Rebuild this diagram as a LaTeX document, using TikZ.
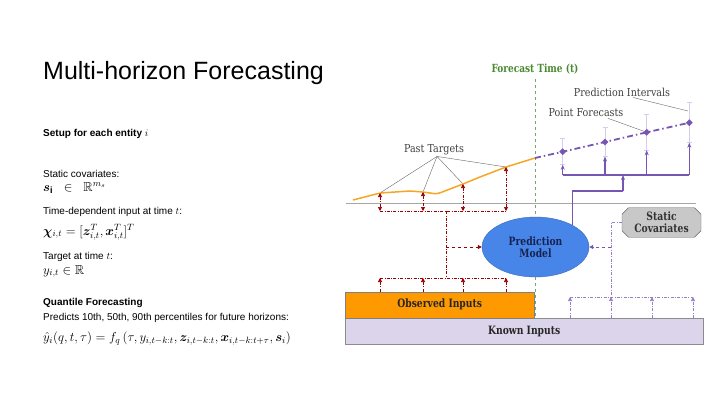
\RequirePackage{fix-cm}
\documentclass[tikz,border=0pt]{standalone}
\usepackage{amsmath,amssymb,bm}
\usepackage{fontspec}
\setmainfont{Liberation Sans}
\newfontfamily\diagfont[FakeStretch=0.87]{DejaVu Serif}
\newfontfamily\boldfam[FakeStretch=0.8]{DejaVu Serif}
\usetikzlibrary{arrows.meta,shapes.geometric,shapes.misc}
\definecolor{obsorange}{RGB}{255,153,0}
\definecolor{lineorange}{RGB}{246,166,35}
\definecolor{tgtred}{RGB}{153,0,0}
\definecolor{fcpurple}{RGB}{118,86,178}
\definecolor{barlav}{RGB}{214,204,238}
\definecolor{knownlav}{RGB}{220,212,234}
\definecolor{modelblue}{RGB}{72,133,232}
\definecolor{modeltext}{RGB}{22,34,80}
\definecolor{ftgreen}{RGB}{72,138,48}
\definecolor{covgray}{RGB}{200,200,200}
\newcommand\bodyfont{\fontsize{10}{12}\selectfont}
\newcommand\eqfont{\fontsize{13}{15}\selectfont}
\newcommand\lblfont{\diagfont\fontsize{11}{13}\selectfont}
\newcommand\boxfont{\boldfam\bfseries\fontsize{11.5}{11.6}\selectfont}
\begin{document}
\begin{tikzpicture}[x=1pt,y=-1pt,
  body/.style={anchor=base west, inner sep=0pt, font=\bodyfont},
  eq/.style={anchor=base west, inner sep=0pt, font=\eqfont},
  lbl/.style={font=\lblfont, text=black!75, inner sep=1pt},
  boxtxt/.style={font=\boxfont, align=center},
  tgt/.style={draw=tgtred, line width=0.7pt, dash pattern=on 3pt off 1.5pt on 0.7pt off 1.5pt},
  cov/.style={draw=fcpurple!75, line width=0.7pt, dash pattern=on 3pt off 1.5pt on 0.7pt off 1.5pt},
  arr/.style={-{Triangle[length=4pt,width=4pt]}},
  fc/.style={draw=fcpurple, line width=1.2pt},
  fcarr/.style={-{Stealth[length=5pt,width=4pt]}},
  lead/.style={draw=black!60, line width=0.4pt}]
\useasboundingbox (0,0) rectangle (720,405);

\node[body, font=\fontsize{25}{30}\selectfont] (title) at (43,79) {Multi-horizon Forecasting};
\node[body] (setup) at (43,136) {\textbf{Setup for each entity} $i$};
\node[body] (statlbl) at (43,177) {Static covariates:};
\node[eq] (stateq) at (43,191) {$\bm{s}_{\mathbf{i}} \;\;\in\;\; \mathbb{R}^{m_s}$};
\node[body] (timelbl) at (43,214) {Time-dependent input at time $t$:};
\node[eq] (timeeq) at (43,235) {$\bm{\chi}_{i,t} = [\bm{z}_{i,t}^T, \bm{x}_{i,t}^T]^T$};
\node[body] (tgtlbl) at (43,259) {Target at time $t$:};
\node[eq] (tgteq) at (43,274) {$y_{i,t} \in \mathbb{R}$};
\node[body] (qlbl) at (43,305) {\textbf{Quantile Forecasting}};
\node[body] (qtxt) at (43,320) {Predicts 10th, 50th, 90th percentiles for future horizons:};
\node[eq] (qeq) at (43,341.5) {$\hat{y}_i(q,t,\tau) = f_q\left(\tau, y_{i,t-k:t}, \bm{z}_{i,t-k:t}, \bm{x}_{i,t-k:t+\tau}, \bm{s}_i\right)$};

\draw[black!35, line width=1pt] (346,203) -- (696,203);
\node[font=\boldfam\bfseries\fontsize{11.2}{12}\selectfont, text=ftgreen, inner sep=1pt] (ftlbl) at (535,69) {Forecast Time (t)};
\node[draw=black!45, fill=knownlav, minimum width=358pt, minimum height=26pt, anchor=north west, boxtxt, text=black!85] (known) at (345,318) {Known Inputs};
\node[draw=black!50, fill=obsorange, minimum width=189pt, minimum height=26pt, anchor=south west, boxtxt, text=black!85] (obs) at (345,318) {Observed Inputs};
\draw[ftgreen!75, dashed, line width=0.8pt, shorten <=4pt] (ftlbl.south) -- (ftlbl.south |- known.north);
\node[ellipse, draw=modelblue!80!black, fill=modelblue, minimum width=107pt, minimum height=60pt, inner sep=0pt, boxtxt, text=modeltext] (model) at (535.5,247) {Prediction\\Model};
\node[chamfered rectangle, chamfered rectangle xsep=3pt, draw=black!60, fill=covgray, minimum width=79pt, minimum height=29pt, inner sep=1pt, boxtxt, text=black!80] (statcov) at (661.5,222.5) {Static\\Covariates};

\coordinate (ob0) at (353,200);
\coordinate (pt1) at (380,193);
\coordinate (ob1) at (410,191);
\coordinate (pt2) at (423,192);
\coordinate (ob2) at (437,194);
\coordinate (pt3) at (463,184);
\coordinate (ob3) at (480,177);
\coordinate (pt4) at (506,167);
\coordinate (now) at (535,158);
\draw[lineorange, line width=1.5pt, rounded corners=3pt] (ob0) -- (pt1) -- (ob1) -- (pt2) -- (ob2) -- (pt3) -- (ob3) -- (pt4) -- (now);

\coordinate (tbus) at (446,211);
\coordinate (obus) at (446,278);
\foreach \p in {pt1,pt2,pt3,pt4} {
  \draw[tgt, {Triangle[length=4pt,width=4pt]}-{Triangle[length=4pt,width=4pt]}] (\p) -- (\p |- tbus);
  \draw[tgt, arr] (\p |- obs.north) -- (\p |- obus);
}
\draw[tgt] (pt1 |- tbus) -- (pt4 |- tbus);
\draw[tgt] (pt1 |- obus) -- (pt4 |- obus);
\draw[tgt] (tbus) -- (obus);
\draw[tgtred, line width=1pt, dashed, arr] (tbus |- model.west) -- (model.west);

\foreach \x [count=\i] in {570,611,652,693} {
  \coordinate (kb\i) at (\x,297);
  \draw[cov, arr] (kb\i |- known.north) -- (kb\i);
}
\draw[cov] (kb1) -- (kb4);
\draw[cov] (statcov.west) -| (kb2);
\draw[fcpurple, line width=1pt, dashed, arr] (kb2 |- model.east) -- (model.east);

\foreach \x/\y/\e [count=\i] in {562.7/151.7/13, 605/142/14.5, 646.7/132.3/18, 689.3/122.7/20} {
  \coordinate (fc\i) at (\x,\y);
  \coordinate (fcb\i) at (\x,\y+\e);
  \draw[barlav, line width=1pt] (\x-2.5,\y-\e) -- (\x+2.5,\y-\e) (\x,\y-\e) -- (\x,\y+\e) (\x-2.5,\y+\e) -- (\x+2.5,\y+\e);
}
\coordinate (fjoin) at (623,175);
\coordinate (fstep) at (623,191);
\foreach \i in {1,...,4}
  \draw[fc, fcarr] (fc\i |- fjoin) -- (fcb\i);
\draw[fc] (fc1 |- fjoin) -- (fc4 |- fjoin);
\draw[fc] (model.31) |- (fstep);
\draw[fc, fcarr] (fstep) -- (fjoin);
\draw[fcpurple, line width=1.8pt, dash pattern=on 6pt off 3pt on 1.5pt off 3pt] (now) -- (fc1) -- (fc2) -- (fc3) -- (fc4);
\foreach \i in {1,...,4}
  \node[diamond, fill=fcpurple, inner sep=0pt, minimum size=7pt] (dm\i) at (fc\i) {};

\node[lbl] (pastlbl) at (434,150) {Past Targets};
\foreach \p in {pt1,pt2,pt3,pt4}
  \draw[lead, shorten >=1pt] ([xshift=3pt]pastlbl.south) -- (\p);
\node[lbl] (pflbl) at (586,113) {Point Forecasts};
\draw[lead] ([xshift=22pt]pflbl.south) -- (dm3);
\node[lbl] (pilbl) at (622,92) {Prediction Intervals};
\coordinate (pitip) at (688,111);
\draw[lead] ([xshift=11pt]pilbl.south) -- (pitip);
\end{tikzpicture}
\end{document}
